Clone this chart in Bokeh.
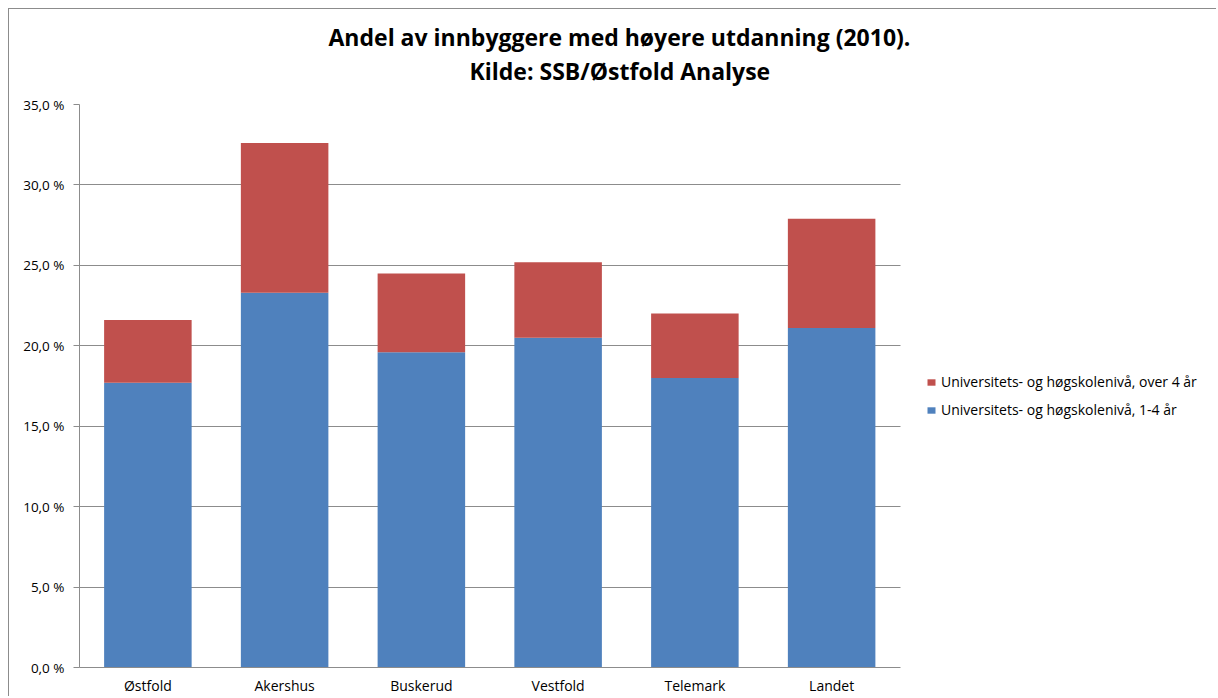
from bokeh.plotting import figure
from bokeh.models import (Range1d, SingleIntervalTicker, FixedTicker, CustomJSTickFormatter,
                          Legend, LegendItem, Title, Grid)
from bokeh.embed import file_html
from bokeh.resources import INLINE

# ---- data ----
regions = ["Østfold", "Akershus", "Buskerud", "Vestfold", "Telemark", "Landet"]
short_edu = [17.7, 23.3, 19.6, 20.5, 18.0, 21.1]   # Universitets- og høgskolenivå, 1-4 år
long_edu = [3.9, 9.3, 4.9, 4.7, 4.0, 6.8]          # Universitets- og høgskolenivå, over 4 år
series_names = ["Universitets- og høgskolenivå, 1-4 år", "Universitets- og høgskolenivå, over 4 år"]
title_lines = ["Andel av innbyggere med høyere utdanning (2010).", "Kilde: SSB/Østfold Analyse"]

BLUE = "#4F81BD"
RED = "#C0504D"
FONT = "Open Sans"

# layout (pixels)
FIG_W, FIG_H = 1208, 688
LEFT = 70
BAR_AREA_W = 820.5            # width of the category area
n = len(regions)
xs = [i + 0.5 for i in range(n)]
x_end = n * (FIG_W - LEFT) / BAR_AREA_W   # frame also holds the legend area on the right

p = figure(width=FIG_W, height=FIG_H, x_range=Range1d(0, x_end),
           y_range=Range1d(0, 35), output_backend="svg", toolbar_location=None,
           title=None, min_border_left=LEFT, min_border_right=0, min_border_top=95,
           min_border_bottom=29)
p.styles = {"margin-left": "8px", "margin-top": "8px",
            "border-left": "1px solid #8c8c8c", "border-top": "1px solid #8c8c8c"}

data = {"x": xs, "short": short_edu, "long": long_edu}
r = p.vbar_stack(["short", "long"], x="x", width=0.64, source=data,
                 color=[BLUE, RED], line_color=None)

p.outline_line_color = None
p.xgrid.grid_line_color = None
p.ygrid.grid_line_color = "#8c8c8c"
p.ygrid.grid_line_width = 1
if "cross_bounds" in Grid.properties():
    p.ygrid.cross_bounds = (0, n)

p.yaxis.ticker = SingleIntervalTicker(interval=5)
p.yaxis.formatter = CustomJSTickFormatter(code="return tick.toFixed(1).replace('.', ',') + ' %';")
p.yaxis.axis_line_color = "#8c8c8c"
p.yaxis.major_tick_line_color = "#8c8c8c"
p.yaxis.major_tick_out = 6
p.yaxis.major_tick_in = 0
p.yaxis.minor_tick_line_color = None
p.yaxis.major_label_standoff = 9
p.yaxis.major_label_text_font = FONT
p.yaxis.major_label_text_font_size = "13.5px"
p.yaxis.major_label_text_color = "#000000"

p.xaxis.ticker = FixedTicker(ticks=xs)
p.xaxis.major_label_overrides = {x: name for x, name in zip(xs, regions)}
p.xaxis.bounds = (0, n)
p.xaxis.axis_line_color = "#8c8c8c"
p.xaxis.major_tick_line_color = None
p.xaxis.minor_tick_line_color = None
p.xaxis.major_label_standoff = 2
p.xaxis.major_label_text_font = FONT
p.xaxis.major_label_text_font_size = "14px"
p.xaxis.major_label_text_color = "#000000"

legend = Legend(items=[LegendItem(label=series_names[1], renderers=[r[1]]),
                       LegendItem(label=series_names[0], renderers=[r[0]])],
                location=(847, 248), orientation="vertical",
                padding=0, margin=0, spacing=9, glyph_width=10, glyph_height=8,
                label_height=14, label_standoff=5, border_line_color=None,
                background_fill_alpha=0,
                label_text_font=FONT, label_text_font_size="14px",
                label_text_color="#000000")
p.add_layout(legend, "center")

# titles: spacer nearest the frame, then line 2, then line 1
p.add_layout(Title(text=" ", text_font_size="1px", standoff=14), "above")
p.add_layout(Title(text=title_lines[1], align="left", offset=390, vertical_align="middle",
                   standoff=0, text_font=FONT, text_font_size="23px",
                   text_font_style="bold", text_color="#000000"), "above")
p.add_layout(Title(text=title_lines[0], align="left", offset=249, vertical_align="middle",
                   standoff=0, text_font=FONT, text_font_size="23px",
                   text_font_style="bold", text_color="#000000"), "above")

open("out.html", "w").write(file_html(p, INLINE))
